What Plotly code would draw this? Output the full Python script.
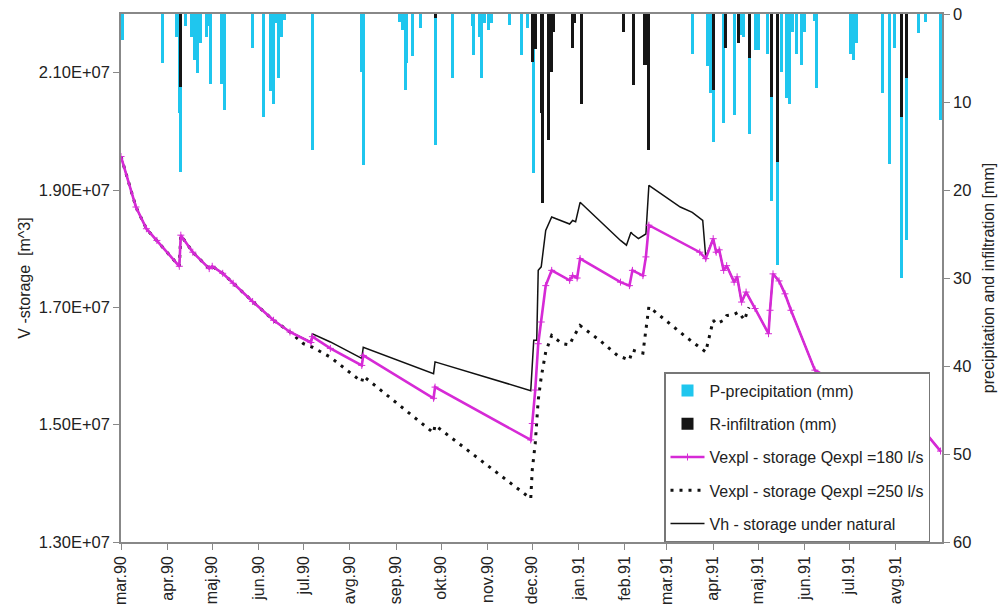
import plotly.graph_objects as go
import pandas as pd

# ---------------- data ----------------
precip_dates = ["1990-03-02","1990-03-29","1990-04-07","1990-04-09","1990-04-10","1990-04-13","1990-04-17",
                "1990-04-19","1990-04-21","1990-04-23","1990-04-27","1990-04-29","1990-04-30","1990-05-07",
                "1990-05-09","1990-05-28","1990-06-04","1990-06-09","1990-06-11","1990-06-13","1990-06-14",
                "1990-06-16","1990-06-18","1990-07-07","1990-08-09","1990-08-10","1990-09-03","1990-09-05",
                "1990-09-07","1990-09-08","1990-09-12","1990-09-17","1990-09-27","1990-10-09","1990-10-22",
                "1990-10-23","1990-10-27","1990-10-28","1990-10-30","1990-11-02","1990-11-04","1990-11-16",
                "1990-11-24","1990-11-28","1990-12-02",
                "1991-03-18","1991-03-28","1991-03-30","1991-04-01","1991-04-08","1991-04-15","1991-04-19",
                "1991-04-21","1991-04-25","1991-04-29","1991-05-01","1991-05-07","1991-05-10","1991-05-14",
                "1991-05-17","1991-05-20","1991-05-22","1991-05-24","1991-05-27","1991-05-30","1991-06-01",
                "1991-06-08","1991-06-09","1991-07-02","1991-07-04","1991-07-06","1991-07-23","1991-07-28",
                "1991-07-31","1991-08-05","1991-08-08","1991-08-16","1991-08-21","1991-08-31"]
precip_mm = [3.0,5.6,2.6,11.3,17.9,1.4,2.6,
             5.2,6.7,3.3,2.6,1.4,7.9,7.9,
             10.9,3.9,11.7,8.8,10.2,1.0,7.3,
             2.6,0.7,15.5,6.6,17.2,0.9,1.8,
             8.6,5.6,4.8,1.6,14.9,7.3,1.4,
             4.7,2.6,7.3,1.0,1.8,1.0,1.2,
             4.7,1.6,18.1,
             4.5,5.9,9.0,14.5,12.4,11.5,2.4,
             2.6,13.6,4.1,4.1,4.5,21.3,28.5,
             6.6,9.6,10.2,2.0,4.5,5.8,2.0,
             0.8,8.4,4.5,5.2,3.3,9.0,17.0,
             3.9,30.0,25.7,2.2,0.9,12.0]

infil_dates = ["1990-04-10","1990-09-27","1990-12-01","1990-12-03","1990-12-07","1990-12-08","1990-12-12",
               "1990-12-13","1990-12-14","1990-12-15","1990-12-28","1990-12-29","1991-01-03","1991-01-31",
               "1991-02-07","1991-02-14","1991-02-15","1991-02-17","1991-04-01","1991-04-09","1991-04-18",
               "1991-04-25","1991-05-10","1991-05-14","1991-08-05","1991-08-08"]
infil_mm = [8.3,0.5,5.4,4.0,11.3,21.5,14.3,
            6.6,6.6,2.0,3.9,1.0,10.2,2.0,
            8.1,5.8,5.8,15.5,8.6,3.9,3.3,
            5.0,9.4,16.8,11.7,7.3]

v180_dates = ["1990-03-01","1990-03-11","1990-03-18","1990-03-25","1990-04-09","1990-04-10","1990-04-18",
              "1990-04-29","1990-05-01","1990-05-08","1990-05-15","1990-05-28","1990-06-11","1990-06-22",
              "1990-07-06","1990-07-07","1990-07-19","1990-08-09","1990-08-10","1990-09-26","1990-09-27",
              "1990-11-30","1990-12-01","1990-12-03","1990-12-05","1990-12-07","1990-12-10","1990-12-14",
              "1990-12-26","1990-12-28","1990-12-31","1991-01-02","1991-01-29","1991-02-04","1991-02-06",
              "1991-02-13","1991-02-15","1991-02-17","1991-03-23","1991-03-27","1991-04-01","1991-04-03",
              "1991-04-05","1991-04-08","1991-04-10","1991-04-15","1991-04-17","1991-04-20","1991-04-23",
              "1991-04-29","1991-05-08","1991-05-09","1991-05-11","1991-05-15","1991-05-19","1991-05-23",
              "1991-06-08","1991-07-15","1991-08-20","1991-08-31"]
v180 = [19.57,18.71,18.34,18.14,17.70,18.23,17.94,
        17.66,17.70,17.58,17.41,17.10,16.78,16.58,
        16.40,16.50,16.30,16.01,16.18,15.45,15.64,
        14.74,15.02,15.59,16.38,16.75,17.37,17.63,
        17.46,17.54,17.50,17.83,17.43,17.37,17.63,
        17.54,17.86,18.40,17.94,17.83,18.17,17.94,
        17.98,17.63,17.71,17.43,17.52,17.09,17.26,
        16.98,16.55,16.95,17.57,17.45,17.23,16.95,
        15.93,15.40,14.89,14.55]

v250_dates = ["1990-03-01","1990-03-11","1990-03-18","1990-03-25","1990-04-09","1990-04-10","1990-04-18",
              "1990-04-29","1990-05-01","1990-05-08","1990-05-15","1990-05-28","1990-06-11","1990-06-22",
              "1990-07-01","1990-07-07","1990-07-19","1990-08-09","1990-08-10","1990-09-26","1990-09-27",
              "1990-11-30","1990-12-01","1990-12-03","1990-12-05","1990-12-07","1990-12-10","1990-12-14",
              "1990-12-21","1990-12-26","1990-12-28","1991-01-02","1991-01-15","1991-01-27","1991-02-04",
              "1991-02-06","1991-02-13","1991-02-15","1991-02-17","1991-03-03","1991-03-14","1991-03-27",
              "1991-04-01","1991-04-03","1991-04-08","1991-04-10","1991-04-15","1991-04-18","1991-04-22",
              "1991-04-24","1991-04-25"]
v250 = [19.57,18.71,18.34,18.14,17.70,18.23,17.94,
        17.66,17.70,17.58,17.41,17.10,16.78,16.58,
        16.38,16.32,16.15,15.73,15.83,14.86,14.99,
        13.74,14.23,14.68,15.42,15.81,16.24,16.52,
        16.38,16.36,16.47,16.69,16.44,16.18,16.10,
        16.27,16.22,16.66,17.01,16.72,16.49,16.24,
        16.78,16.72,16.78,16.86,16.88,16.92,16.78,
        16.95,17.00]

vh_dates = ["1990-03-01","1990-03-11","1990-03-18","1990-03-25","1990-04-09","1990-04-10","1990-04-18",
            "1990-04-29","1990-05-01","1990-05-08","1990-05-15","1990-05-28","1990-06-11","1990-06-22",
            "1990-07-06","1990-07-07","1990-07-19","1990-08-09","1990-08-10","1990-09-26","1990-09-27",
            "1990-11-30","1990-12-02","1990-12-04","1990-12-05","1990-12-07","1990-12-10","1990-12-14",
            "1990-12-26","1990-12-28","1990-12-30","1991-01-02","1991-01-29","1991-02-02","1991-02-05",
            "1991-02-06","1991-02-10","1991-02-15","1991-02-17","1991-03-10","1991-03-18","1991-03-25",
            "1991-03-27","1991-04-01","1991-04-03","1991-04-05","1991-04-08","1991-04-10","1991-04-15",
            "1991-04-17","1991-04-20","1991-04-23","1991-04-29","1991-05-08","1991-05-09","1991-05-11",
            "1991-05-15","1991-05-19","1991-05-23","1991-06-08","1991-07-15","1991-08-20","1991-08-31"]
vh = [19.57,18.71,18.34,18.14,17.70,18.23,17.94,
      17.66,17.70,17.58,17.41,17.10,16.78,16.58,
      16.41,16.55,16.41,16.13,16.32,15.87,16.07,
      15.58,16.44,16.44,17.63,17.69,18.31,18.54,
      18.42,18.48,18.46,18.79,18.14,18.06,18.28,
      18.25,18.17,18.25,19.08,18.71,18.62,18.48,
      17.86,18.17,17.94,17.98,17.63,17.71,17.43,
      17.52,17.09,17.26,16.98,16.55,16.95,17.57,
      17.45,17.23,16.95,15.93,15.40,14.89,14.55]

month_ticks = ["1990-03-01","1990-04-01","1990-05-01","1990-06-01","1990-07-01","1990-08-01",
               "1990-09-01","1990-10-01","1990-11-01","1990-12-01","1991-01-01","1991-02-01",
               "1991-03-01","1991-04-01","1991-05-01","1991-06-01","1991-07-01","1991-08-01"]
month_labels = ["mar.90","apr.90","maj.90","jun.90","jul.90","avg.90","sep.90","okt.90","nov.90",
                "dec.90","jan.91","feb.91","mar.91","apr.91","maj.91","jun.91","jul.91","avg.91"]

v_ticks = [1.3e7, 1.5e7, 1.7e7, 1.9e7, 2.1e7]
v_labels = ["1.30E+07", "1.50E+07", "1.70E+07", "1.90E+07", "2.10E+07"]
mm_ticks = [0, 10, 20, 30, 40, 50, 60]

# ---------------- figure ----------------
FONT = "Liberation Sans, Arial, sans-serif"
CYAN = "#1FC6EE"
MAG = "#D62AD6"
DAY_MS = 86400000
AX = "#888888"

fig = go.Figure()

fig.add_trace(go.Bar(x=pd.to_datetime(precip_dates), y=precip_mm, yaxis="y2",
                     name="P-precipitation (mm)", marker=dict(color=CYAN, line=dict(width=0)),
                     width=2 * DAY_MS, legendgroup="g1", legendrank=1))
fig.add_trace(go.Bar(x=pd.to_datetime(infil_dates), y=infil_mm, yaxis="y2",
                     name="R-infiltration (mm)", marker=dict(color="#151515", line=dict(width=0)),
                     width=2 * DAY_MS, legendgroup="g2", legendrank=2))
fig.add_trace(go.Scatter(x=pd.to_datetime(vh_dates), y=[v * 1e6 for v in vh], mode="lines",
                         name="Vh - storage under natural",
                         line=dict(color="#111111", width=1.5), legendgroup="g5", legendrank=5))
fig.add_trace(go.Scatter(x=pd.to_datetime(v250_dates), y=[v * 1e6 for v in v250], mode="lines",
                         name="Vexpl - storage Qexpl =250 l/s",
                         line=dict(color="#111111", width=3, dash="3px,6px"),
                         legendgroup="g4", legendrank=4))
fig.add_trace(go.Scatter(x=pd.to_datetime(v180_dates), y=[v * 1e6 for v in v180], mode="lines+markers",
                         name="Vexpl - storage Qexpl =180 l/s",
                         line=dict(color=MAG, width=2.6),
                         marker=dict(symbol="cross-thin", size=5, color=MAG, line=dict(width=1, color=MAG)),
                         legendgroup="g3", legendrank=3))

fig.update_layout(
    width=1007, height=604,
    margin=dict(l=121, r=65, t=14, b=62),
    paper_bgcolor="white", plot_bgcolor="white",
    font=dict(family=FONT, size=16, color="#222222"),
    barmode="overlay",
    bargap=0,
    legend=dict(x=(664 - 121) / 821, y=(542 - 372) / 528, xanchor="left", yanchor="top",
                bgcolor="white", bordercolor="#777777", borderwidth=1.5,
                font=dict(family=FONT, size=16, color="#222222"),
                tracegroupgap=9.5, traceorder="grouped", itemwidth=34),
    xaxis=dict(type="date", range=["1990-03-01", "1991-09-01"], automargin=False,
               tickvals=pd.to_datetime(month_ticks), ticktext=month_labels, tickangle=-90,
               ticks="outside", ticklen=6, tickcolor=AX, showgrid=False, zeroline=False,
               showline=True, linecolor=AX, linewidth=1.5, mirror=True,
               tickfont=dict(size=16)),
    yaxis=dict(range=[1.3e7, 2.2e7], tickvals=v_ticks, ticktext=v_labels, automargin=False,
               ticks="outside", ticklen=6, tickcolor=AX, showgrid=False, zeroline=False,
               showline=True, linecolor=AX, linewidth=1.5,
               title=dict(text="V -storage  [m^3]", font=dict(size=16), standoff=4),
               tickfont=dict(size=16.5)),
    yaxis2=dict(overlaying="y", side="right", range=[60, 0], tickvals=mm_ticks, automargin=False,
                ticks="outside", ticklen=6, tickcolor=AX, showgrid=False, zeroline=False,
                showline=True, linecolor=AX, linewidth=1.5,
                title=dict(text="precipitation and infiltration [mm]", font=dict(size=16), standoff=12),
                tickfont=dict(size=16.5)),
)

fig.write_html("out.html", config={"displayModeBar": False},
               post_script="document.body.style.margin='0';document.body.style.overflow='hidden';")
